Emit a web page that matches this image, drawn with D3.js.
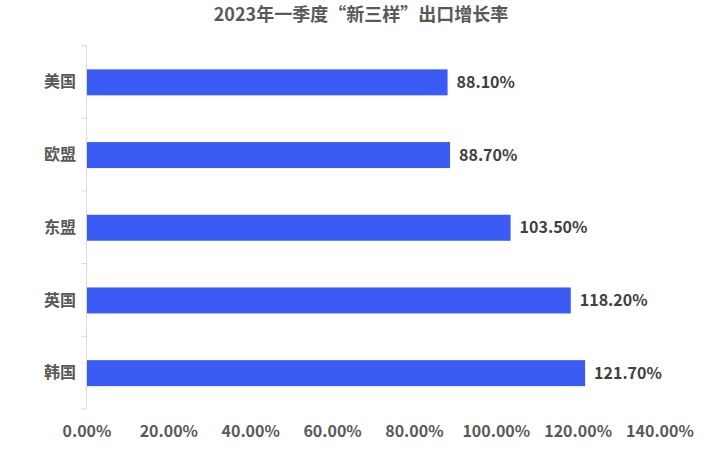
<!DOCTYPE html>
<html><head><meta charset="utf-8">
<script src="https://cdn.jsdelivr.net/npm/d3@7"></script>
<style>body{margin:0;background:#fff}svg{display:block}text{font-family:"Noto Sans CJK SC","Noto Sans",sans-serif;font-weight:bold}</style>
</head><body>
<svg id="c" width="722" height="457"></svg>
<script>
const title = "2023年一季度“新三样”出口增长率";
const categories = ["美国","欧盟","东盟","英国","韩国"];
const values = [88.10, 88.70, 103.50, 118.20, 121.70];
const xTicks = [0,20,40,60,80,100,120,140];

const svg = d3.select("#c");
const x = d3.scaleLinear().domain([0,140]).range([87,660]);
const y = d3.scaleBand().domain(categories).range([45.5,409]);
const barH = 26;

svg.append("text").attr("x",361).attr("y",15).attr("dy","0.35em").attr("text-anchor","middle")
  .attr("font-size",18).attr("fill","#595959").text(title);

// y axis line and ticks
const yax = svg.append("g");
yax.append("line").attr("x1",86.5).attr("x2",86.5).attr("y1",45.5).attr("y2",409).attr("stroke","#d9d9d9");
const bounds = categories.map(c=>y(c)).concat([y.range()[1]]);
yax.selectAll(".tk").data(bounds).join("line").attr("x1",81).attr("x2",86.5)
  .attr("y1",d=>d).attr("y2",d=>d).attr("stroke","#d9d9d9");
yax.selectAll(".cl").data(categories).join("text")
  .attr("x",76).attr("y",c=>y(c)+y.bandwidth()/2).attr("dy","0.35em")
  .attr("text-anchor","end").attr("font-size",16).attr("fill","#595959").text(c=>c);

// bars
svg.selectAll(".bar").data(values).join("rect")
  .attr("x",x(0)).attr("y",(d,i)=>y(categories[i])+y.bandwidth()/2-barH/2+0.5)
  .attr("width",d=>x(d)-x(0)).attr("height",barH).attr("fill","#3A5CF5");

svg.selectAll(".vl").data(values).join("text")
  .attr("x",d=>x(d)+9).attr("y",(d,i)=>y(categories[i])+y.bandwidth()/2+0.5).attr("dy","0.35em")
  .attr("font-size",16).attr("fill","#404040").text(d=>d.toFixed(2)+"%");

// x tick labels
svg.selectAll(".xl").data(xTicks).join("text")
  .attr("x",d=>x(d)).attr("y",431).attr("dy","0.35em").attr("text-anchor","middle")
  .attr("font-size",16).attr("fill","#595959").text(d=>d.toFixed(2)+"%");
</script>
</body></html>
